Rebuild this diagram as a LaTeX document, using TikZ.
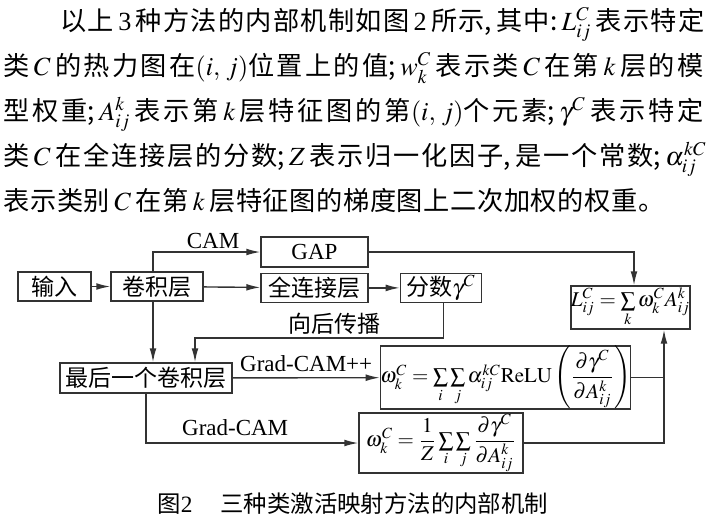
\documentclass[tikz,border=0pt]{standalone}
\usepackage{amsmath}
\usepackage{mathptmx}
\usepackage[no-math]{fontspec}
\setmainfont{Noto Sans CJK SC}
\newfontfamily\lat{Liberation Serif}
\usetikzlibrary{arrows.meta, positioning, calc}

% stretchable glue between CJK characters, so that lines can be justified
\XeTeXinterchartokenstate=1
\newXeTeXintercharclass\cjkcls
\newcount\cjkcc
\cjkcc="4E00
\loop\XeTeXcharclass\cjkcc=\cjkcls\advance\cjkcc by 1 \ifnum\cjkcc<"A000 \repeat
\cjkcc="3000
\loop\XeTeXcharclass\cjkcc=\cjkcls\advance\cjkcc by 1 \ifnum\cjkcc<"3040 \repeat
\XeTeXinterchartoks\cjkcls\cjkcls={\hskip0pt plus 4pt\relax}
\tolerance=10000

\tikzset{
  box/.style={rectangle, draw=black!80, line width=0.7pt, inner sep=0pt,
    font=\fontsize{11.5}{13}\selectfont},
  mathbox/.style={box, font=\fontsize{10.5}{12}\selectfont},
  line/.style={draw=black!80, line width=0.7pt},
  arr/.style={line, -{Latex[length=7pt, width=3.4pt]}},
  lbl/.style={font=\fontsize{11.5}{13}\selectfont, inner sep=1.5pt},
  txtline/.style={anchor=base west, inner sep=0pt, align=justify,
    font=\fontsize{13.1}{15}\selectfont},
}

\begin{document}
\begin{tikzpicture}[x=0.5pt, y=-0.5pt]
\useasboundingbox (0,0) rectangle (712,521);

% text above the figure
\node[txtline, text width=322pt] (p1) at (60,30) {\parfillskip=0pt 以上\,{\lat 3}\,种方法的内部机制如图\,{\lat 2}\,所示,\,其中:\,$L^C_{ij}$\,表示特定\par};
\node[txtline, text width=350pt] (p2) at (3,75) {\parfillskip=0pt 类\,$C$\,的热力图在$(i,\,j)$位置上的值;\,$w^C_k$\,表示类\,$C$\,在第\,$k$\,层的模\par};
\node[txtline, text width=350pt] (p3) at (3,120) {\parfillskip=0pt 型权重;\,$A^k_{ij}$\,表示第\,$k$\,层特征图的第$(i,\,j)$个元素;\,$\gamma^C$\,表示特定\par};
\node[txtline, text width=351.5pt] (p4) at (3,165) {\parfillskip=0pt 类\,$C$\,在全连接层的分数;\,$Z$\,表示归一化因子,\,是一个常数;\,$\alpha^{kC}_{ij}$\par};
\node[txtline, text width=330.5pt] (p5) at (3,210) {\parfillskip=0pt 表示类别\,$C$\,在第\,$k$\,层特征图的梯度图上二次加权的权重。\par};

% boxes
\node[box, minimum width=36.5pt, minimum height=14.5pt] (in) at (54.5,286.5) {输入};
\node[box, minimum width=46pt, minimum height=14.5pt] (conv) at (157,286.5) {卷积层};
\node[box, minimum width=53.5pt, minimum height=15pt] (gap) at (314.5,252) {\lat GAP};
\node[box, minimum width=53.5pt, minimum height=14.5pt, below=2.5pt of gap] (fc) {全连接层};
\node[box, minimum width=40.5pt, minimum height=14.5pt, right=15.5pt of fc] (score) {分数$\gamma^C$};
\node[mathbox, minimum width=59.5pt, minimum height=21.5pt] (cam) at (630.5,307.5) {$L^C_{ij}=\sum\limits_k\omega^C_kA^k_{ij}$};
\node[box, minimum width=86pt, minimum height=15pt] (last) at (146,378) {最后一个卷积层};
\node[mathbox, minimum width=122.5pt, minimum height=29.5pt] (gpp) at (505.5,377.5) {$\omega^C_k=\sum\limits_i\sum\limits_j\alpha^{kC}_{ij}\mathrm{ReLU}\left(\dfrac{\partial\gamma^C}{\partial A^k_{ij}}\right)$};
\node[mathbox, minimum width=82pt, minimum height=30pt] (grad) at (441,443) {$\omega^C_k=\dfrac{1}{Z}\sum\limits_i\sum\limits_j\dfrac{\partial\gamma^C}{\partial A^k_{ij}}$};
\coordinate (bp) at (195,338);
\coordinate (camin) at ([xshift=16.75pt]cam.south);

% connectors
\draw[arr] (in) -- (conv);
\draw[arr] ([xshift=-2pt]conv.north) |- node[lbl, above, pos=0.78] (lcam) {\lat CAM} (gap);
\draw[arr] (conv) -- (fc);
\draw[arr] (fc) -- (score);
\draw[arr] (gap) -| ([xshift=1.75pt]cam.north);
\draw[arr] ([xshift=-2pt]conv.south) -- ([xshift=-2pt]conv.south |- last.north);
\draw[arr] ([xshift=1.25pt]score.south) |- node[lbl, above, pos=0.72] (lbp) {向后传播} (bp) -- (bp |- last.north);
\draw[arr] (last) -- node[lbl, above=1pt] (lgpp) {\lat Grad-CAM++} (gpp);
\draw[arr] (last.south) |- node[lbl, above=2pt, pos=0.71] (lgrad) {\lat Grad-CAM} (grad);
\draw[line] (gpp) -- (gpp -| camin);
\draw[arr] (grad) -| (camin);

% caption
\node[anchor=base west, inner sep=0pt, font=\fontsize{11.7}{14}\selectfont] (cap) at (157,512) {图{\lat 2}\hspace{1.2em}三种类激活映射方法的内部机制};
\end{tikzpicture}
\end{document}
